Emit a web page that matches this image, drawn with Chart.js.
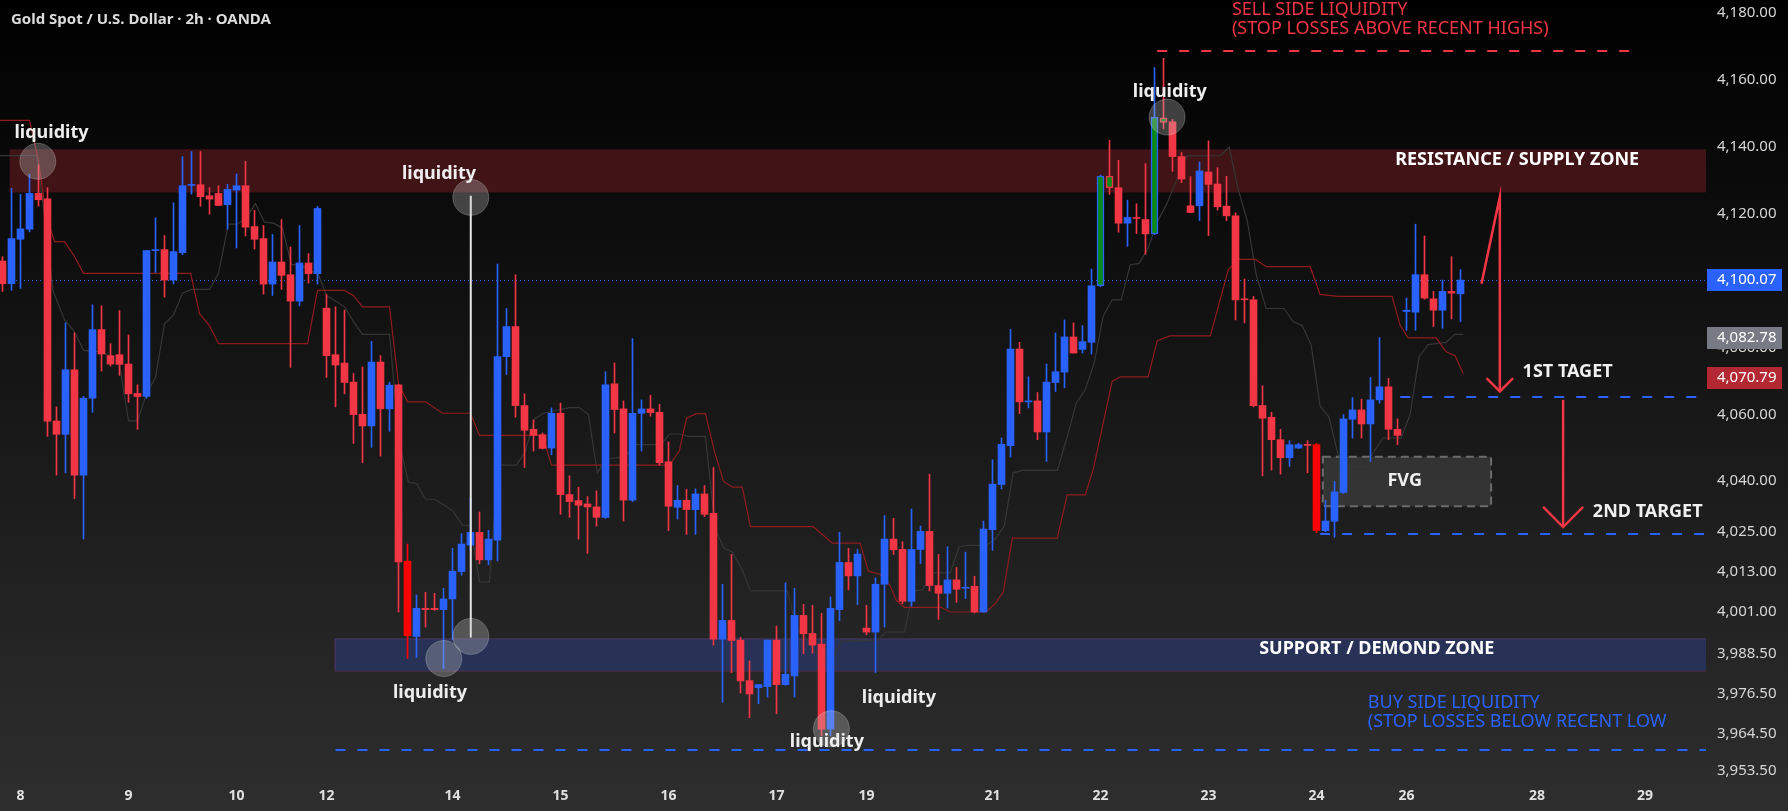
<!DOCTYPE html>
<html>
<head>
<meta charset="utf-8">
<script src="https://cdn.jsdelivr.net/npm/chart.js@4.4.1/dist/chart.umd.min.js"></script>
<style>
  html, body { margin: 0; padding: 0; background: #000; }
  #gold-chart { display: block; }
</style>
</head>
<body>
<canvas id="gold-chart" width="1788" height="811" style="width:1788px;height:811px"></canvas>
<script>
// ====== Candles (2h)
const candleOpen = [
  4105.8, 4099.0, 4112.3, 4115.3, 4126.0, 4124.4, 4058.0, 4054.0, 4073.3, 4041.8,
  4064.8, 4085.3, 4077.5, 4077.8, 4075.0, 4066.2, 4065.3, 4108.9, 4109.2, 4100.1,
  4108.3, 4128.4, 4128.6, 4125.3, 4126.0, 4122.6, 4127.0, 4128.3, 4116.1, 4112.5,
  4098.9, 4105.5, 4101.7, 4093.8, 4105.2, 4102.0, 4091.7, 4077.8, 4075.3, 4069.6,
  4060.0, 4056.5, 4075.6, 4061.6, 4068.8, 4016.1, 3993.6, 4002.0, 4002.0, 4001.6,
  4004.8, 4013.0, 4020.9, 4024.7, 4016.5, 4022.4, 4077.2, 4086.2, 4062.6, 4055.5,
  4053.9, 4049.9, 4060.3, 4036.0, 4034.2, 4033.2, 4032.3, 4029.2, 4069.1, 4061.6,
  4034.3, 4060.3, 4061.6, 4060.6, 4045.8, 4032.2, 4034.3, 4031.5, 4036.2, 4030.4,
  3992.8, 3998.4, 3992.5, 3980.4, 3978.3, 3978.6, 3992.5, 3979.2, 3981.8, 3999.9,
  3994.5, 3991.3, 3965.9, 4001.6, 4015.7, 4011.7, 3996.1, 3994.9, 4009.2, 4022.7,
  4019.6, 4004.1, 4019.6, 4025.0, 4008.8, 4006.5, 4010.5, 4008.0, 4008.6, 4000.9,
  4025.5, 4039.0, 4050.6, 4079.5, 4063.7, 4064.0, 4054.7, 4069.5, 4072.6, 4083.1,
  4079.4, 4081.5, 4098.4, 4131.2, 4127.7, 4117.1, 4118.8, 4118.2, 4113.9, 4148.6,
  4147.4, 4137.0, 4122.3, 4122.3, 4132.4, 4128.8, 4122.2, 4119.3, 4094.5, 4094.2,
  4062.6, 4059.1, 4052.4, 4047.0, 4049.9, 4050.9, 4050.9, 4025.2, 4028.0, 4036.6,
  4058.5, 4061.3, 4057.1, 4064.3, 4068.2, 4055.5, 4090.7, 4090.5, 4101.7, 4094.5,
  4091.1, 4096.7, 4096.0,
];
const candleHigh = [
  4107.1, 4127.5, 4125.7, 4131.7, 4134.6, 4127.7, 4062.2, 4087.3, 4084.3, 4065.3,
  4092.7, 4092.4, 4081.1, 4091.0, 4083.7, 4068.8, 4108.9, 4118.7, 4113.4, 4123.2,
  4137.0, 4138.5, 4138.5, 4127.7, 4128.3, 4128.7, 4131.8, 4135.6, 4120.9, 4116.4,
  4113.7, 4118.2, 4110.0, 4116.4, 4108.0, 4122.1, 4095.8, 4092.1, 4091.1, 4072.2,
  4074.1, 4081.8, 4077.5, 4069.6, 4068.8, 4021.2, 4006.0, 4006.8, 4006.5, 4008.0,
  4019.9, 4024.3, 4035.1, 4030.8, 4025.3, 4104.9, 4091.6, 4101.7, 4066.1, 4058.3,
  4054.4, 4061.9, 4063.3, 4041.6, 4038.2, 4035.4, 4037.1, 4072.7, 4075.3, 4064.0,
  4082.6, 4064.3, 4065.7, 4063.0, 4051.7, 4038.7, 4037.6, 4037.7, 4038.7, 4044.1,
  4009.2, 4018.1, 3993.3, 3986.3, 3979.2, 3992.5, 3996.7, 4009.6, 4008.0, 4003.2,
  4002.9, 4000.5, 4005.4, 4024.7, 4019.9, 4019.6, 4002.9, 4011.1, 4029.7, 4028.9,
  4021.9, 4031.7, 4026.6, 4042.1, 4018.1, 4020.4, 4014.2, 4018.8, 4011.6, 4028.1,
  4046.4, 4052.9, 4085.4, 4081.5, 4071.2, 4066.5, 4075.0, 4084.3, 4088.2, 4087.3,
  4086.5, 4103.4, 4131.5, 4141.9, 4135.9, 4124.0, 4122.9, 4134.9, 4163.6, 4166.4,
  4148.1, 4138.2, 4131.0, 4135.4, 4141.7, 4133.7, 4131.1, 4120.2, 4100.4, 4095.2,
  4068.5, 4060.6, 4055.5, 4052.1, 4051.3, 4052.1, 4051.3, 4034.3, 4039.9, 4059.9,
  4065.0, 4064.5, 4071.0, 4082.9, 4070.7, 4058.6, 4094.7, 4116.8, 4113.3, 4096.7,
  4100.1, 4107.1, 4103.2,
];
const candleLow = [
  4096.7, 4097.0, 4097.6, 4114.5, 4122.2, 4053.4, 4041.8, 4042.5, 4034.8, 4022.7,
  4060.6, 4072.9, 4074.4, 4071.6, 4063.6, 4055.5, 4064.8, 4102.4, 4095.0, 4098.9,
  4107.7, 4125.8, 4122.2, 4119.8, 4122.4, 4115.3, 4109.7, 4113.3, 4109.4, 4095.9,
  4095.5, 4097.3, 4074.0, 4092.4, 4099.2, 4098.9, 4071.0, 4062.2, 4066.1, 4051.3,
  4045.5, 4050.1, 4047.5, 4054.9, 4000.9, 3987.0, 3987.3, 3996.4, 4001.4, 3984.0,
  3992.7, 4011.9, 4019.3, 4015.3, 4015.0, 4016.2, 4071.9, 4059.1, 4044.1, 4049.0,
  4049.6, 4047.9, 4030.1, 4029.2, 4022.7, 4018.4, 4026.6, 4028.9, 4054.4, 4028.1,
  4033.9, 4049.0, 4059.4, 4044.8, 4025.2, 4028.7, 4024.1, 4024.1, 4029.4, 3991.0,
  3973.9, 3982.8, 3976.7, 3969.3, 3973.5, 3975.5, 3970.5, 3979.0, 3975.5, 3988.4,
  3988.6, 3963.9, 3963.9, 3998.3, 4007.5, 4003.1, 3994.1, 3982.8, 3996.4, 4018.1,
  4003.4, 4002.6, 4015.4, 4007.2, 3998.7, 4002.1, 4003.8, 4004.9, 4000.6, 4000.9,
  4019.3, 4037.7, 4047.2, 4060.2, 4061.9, 4052.4, 4045.9, 4066.8, 4067.9, 4078.3,
  4078.3, 4078.0, 4098.1, 4125.7, 4114.4, 4110.2, 4114.0, 4107.8, 4113.7, 4145.3,
  4132.6, 4129.2, 4120.2, 4117.9, 4113.4, 4121.0, 4117.9, 4088.2, 4087.3, 4062.2,
  4041.6, 4043.3, 4042.1, 4044.4, 4049.8, 4042.5, 4024.6, 4024.9, 4023.2, 4036.3,
  4052.9, 4052.9, 4045.9, 4063.3, 4052.4, 4050.9, 4085.1, 4085.1, 4094.4, 4086.2,
  4085.7, 4088.5, 4087.7,
];
const candleClose = [
  4099.0, 4112.5, 4115.4, 4126.0, 4124.1, 4057.9, 4054.0, 4073.3, 4041.8, 4064.8,
  4085.3, 4078.0, 4075.0, 4074.9, 4066.1, 4065.3, 4108.9, 4109.2, 4100.1, 4108.6,
  4128.3, 4128.7, 4125.0, 4124.3, 4122.4, 4127.2, 4128.3, 4115.9, 4112.3, 4098.9,
  4105.5, 4101.5, 4093.8, 4105.2, 4102.0, 4121.5, 4077.5, 4074.7, 4069.5, 4059.9,
  4056.5, 4075.6, 4061.6, 4068.7, 4015.9, 3993.8, 4002.0, 4001.6, 4001.6, 4004.8,
  4013.1, 4021.2, 4024.7, 4016.5, 4022.7, 4077.2, 4086.2, 4062.6, 4055.2, 4053.7,
  4049.8, 4060.3, 4036.0, 4033.9, 4032.8, 4032.3, 4029.2, 4068.8, 4061.4, 4034.3,
  4060.3, 4061.6, 4060.5, 4045.5, 4032.5, 4034.3, 4031.5, 4036.2, 4030.1, 3992.8,
  3998.4, 3992.4, 3980.3, 3976.4, 3979.2, 3992.5, 3979.2, 3982.3, 3999.9, 3994.4,
  3991.0, 3965.9, 4002.0, 4015.7, 4011.7, 4018.2, 3994.9, 4009.2, 4022.7, 4019.5,
  4004.1, 4019.6, 4025.0, 4008.8, 4006.5, 4010.5, 4007.7, 4008.3, 4000.9, 4025.7,
  4039.1, 4051.0, 4079.5, 4063.7, 4064.0, 4054.7, 4069.6, 4072.7, 4083.1, 4078.3,
  4081.7, 4098.4, 4131.2, 4127.7, 4117.1, 4118.8, 4118.5, 4113.9, 4148.8, 4147.2,
  4137.0, 4130.3, 4120.3, 4132.7, 4128.7, 4122.0, 4119.3, 4094.2, 4094.2, 4062.6,
  4058.8, 4052.4, 4047.0, 4050.9, 4050.9, 4050.7, 4025.3, 4028.1, 4036.8, 4058.6,
  4061.3, 4057.1, 4064.3, 4068.2, 4055.5, 4053.7, 4091.1, 4101.7, 4094.7, 4091.1,
  4096.7, 4096.2, 4100.1,
];
// candles the author repainted
const greenMarked = [122, 123, 128, 129];
const sweepCandles = [45, 146];

// ====== Indicator lines [candle index, price]
const redBaseline = [
  [-0.3, 4147.8], [3.0, 4147.8], [4.0, 4135.7], [4.9, 4118.7], [5.8, 4111.6], [6.9, 4111.6],
  [7.85, 4107.8], [9.0, 4102.1], [20.9, 4102.1], [21.9, 4090.0], [23.0, 4086.5], [24.0, 4081.1],
  [33.9, 4081.1], [35.0, 4097.0], [38.0, 4097.0], [39.0, 4095.5], [40.0, 4092.1], [43.0, 4092.1],
  [44.0, 4069.1], [45.0, 4063.7], [47.0, 4063.7], [48.9, 4060.3], [52.0, 4060.3], [53.0, 4053.7],
  [60.0, 4053.7], [61.0, 4044.8], [74.1, 4044.8], [75.2, 4049.0], [76.0, 4058.8], [77.1, 4060.2],
  [78.1, 4060.2], [79.1, 4049.0], [80.1, 4040.0], [81.1, 4038.2], [82.2, 4038.2], [83.1, 4026.4],
  [90.1, 4026.4], [92.2, 4021.5], [95.3, 4021.5], [96.2, 4013.1], [97.5, 4012.2], [98.6, 4008.8],
  [99.3, 4004.4], [100.2, 4002.3], [104.3, 4002.3], [105.3, 4000.9], [109.3, 4000.9], [110.3, 4003.4],
  [111.2, 4006.9], [112.2, 4023.0], [117.2, 4023.0], [118.3, 4035.9], [120.3, 4035.9], [121.2, 4043.6],
  [123.3, 4069.9], [124.2, 4071.2], [127.3, 4071.2], [128.3, 4082.0], [129.7, 4083.4], [134.2, 4083.4],
  [136.2, 4103.2], [137.3, 4106.3], [139.2, 4106.3], [140.4, 4104.1], [145.3, 4104.1], [146.4, 4095.8],
  [148.4, 4095.2], [154.4, 4095.2], [155.3, 4086.5], [156.2, 4082.8], [159.3, 4082.8], [160.4, 4078.7],
  [161.4, 4077.5], [162.3, 4072.2],
];
const greyBaseline = [
  [-0.3, 4137.3], [3.8, 4137.3], [4.7, 4118.7], [5.6, 4097.0], [6.9, 4088.2], [7.9, 4085.1],
  [9.0, 4079.1], [10.8, 4078.7], [11.9, 4077.5], [13.0, 4075.0], [14.0, 4058.0], [15.0, 4058.0],
  [16.0, 4066.1], [17.0, 4071.0], [18.0, 4087.0], [19.0, 4089.7], [20.0, 4096.2], [21.0, 4097.3],
  [23.0, 4097.3], [24.0, 4102.1], [25.1, 4116.8], [26.1, 4116.8], [27.1, 4118.7], [28.1, 4123.0],
  [29.1, 4117.4], [30.1, 4117.1], [31.1, 4115.6], [32.1, 4104.7], [33.0, 4104.7], [35.1, 4101.7],
  [36.0, 4095.5], [38.0, 4092.1], [39.0, 4087.7], [40.0, 4083.9], [43.0, 4083.9], [44.1, 4051.3],
  [45.1, 4039.7], [46.0, 4039.3], [47.0, 4034.6], [48.0, 4034.6], [49.1, 4032.8], [50.1, 4030.9],
  [51.1, 4026.9], [52.0, 4026.6], [53.0, 4009.9], [54.1, 4009.9], [55.1, 4044.8], [57.1, 4044.8],
  [58.1, 4049.0], [59.1, 4058.6], [60.1, 4060.3], [63.0, 4062.0], [64.1, 4062.0], [65.1, 4059.9],
  [66.1, 4042.5], [67.1, 4046.7], [69.2, 4047.2], [70.2, 4050.9], [73.2, 4050.9], [74.1, 4054.1],
  [75.2, 4054.1], [76.2, 4053.4], [78.1, 4053.4], [79.2, 4025.8], [80.1, 4020.1], [81.1, 4018.8],
  [82.2, 4013.4], [83.1, 4007.2], [87.2, 4007.2], [88.2, 3996.4], [89.2, 3993.3], [90.2, 3989.4],
  [91.2, 3988.4], [92.2, 3986.3], [93.2, 3992.2], [97.2, 3992.5], [98.2, 3994.9], [100.2, 3994.9],
  [101.2, 4007.2], [102.2, 4007.5], [103.3, 4012.6], [105.3, 4012.6], [106.3, 4020.4], [107.3, 4020.8],
  [109.3, 4020.8], [110.3, 4022.7], [111.3, 4026.6], [112.3, 4042.5], [113.3, 4043.2], [117.2, 4043.2],
  [118.3, 4053.2], [119.3, 4063.3], [120.3, 4067.3], [121.3, 4075.3], [122.3, 4089.3], [123.3, 4094.2],
  [124.3, 4094.2], [125.3, 4104.7], [126.3, 4105.1], [127.3, 4109.7], [128.3, 4117.5], [129.3, 4122.5],
  [130.3, 4129.0], [131.6, 4137.2], [135.3, 4137.3], [136.3, 4139.8], [137.3, 4127.2], [138.3, 4117.9],
  [139.3, 4101.7], [140.4, 4091.6], [142.4, 4091.6], [143.4, 4087.7], [144.4, 4086.5], [145.4, 4080.8],
  [146.4, 4062.5], [147.4, 4059.1], [148.4, 4047.8], [149.4, 4044.4], [151.4, 4044.4], [152.4, 4049.0],
  [153.4, 4052.9], [155.4, 4052.9], [156.4, 4059.9], [157.4, 4077.2], [158.4, 4080.8], [160.4, 4081.5],
  [161.4, 4083.9], [162.3, 4083.9],
];

// ====== Axes
const dayTickPos = [2, 14, 26, 36, 50, 62, 74, 86, 96, 110, 122, 134, 146, 156, 170.5, 182.5];
const dayTickLabels = ["8", "9", "10", "12", "14", "15", "16", "17", "19", "21", "22", "23", "24", "26", "28", "29"];
const priceTicks = [4180, 4160, 4140, 4120, 4100, 4080, 4060, 4040, 4025, 4013, 4001, 3988.5, 3976.5, 3964.5, 3953.5];
const lastPrice = 4100.07;
const badgePrices = [4100.07, 4082.78, 4070.79];
const badgeColors = ["#2962ff", "#787b86", "#b22833"];

const X_MIN = -0.2778, X_MAX = 189.2778;
const Y_MIN = 3949.8, Y_MAX = 4183.8;

// ====== Drawing on top (positions in candle index / price)
const zoneBoxes = [
  { x0: 0.8, x1: X_MAX, top: 4139.2, bottom: 4126.3, fill: "rgba(110,28,33,0.55)" },
  { x0: 36.9, x1: X_MAX, top: 3993.0, bottom: 3983.4, fill: "rgba(42,64,140,0.48)", stroke: "rgba(110,55,110,0.55)" },
];
const fvgBox = { x0: 146.7, x1: 165.4, top: 4047.3, bottom: 4032.5 };
const dashedLevels = [
  { x0: 128.3, x1: 180.8, p: 4168.6, color: "#f23645" },
  { x0: 37.0, x1: X_MAX, p: 3959.8, color: "#2962ff" },
  { x0: 155.3, x1: 188.3, p: 4065.3, color: "#2962ff" },
  { x0: 146.4, x1: X_MAX, p: 4024.1, color: "#2962ff" },
];
const sweepLine = { x: 52.03, top: 4125.3, bottom: 3993.3 };
const liquidityCircles = [[3.92, 4135.6], [52.03, 4124.8], [52.03, 3993.6], [49.03, 3987.0], [92.1, 3966.0], [129.4, 4148.8]];
const arrows = [
  { path: [[164.33, 4099.0], [166.37, 4125.0], [166.37, 4066.8]], head: [[164.89, 4070.8], [166.37, 4066.8], [167.84, 4070.8]] },
  { path: [[173.4, 4064.3], [173.4, 4026.3]], head: [[171.18, 4032.3], [173.4, 4026.3], [175.62, 4032.3]] },
];
const BOLD = 'bold 18px "Noto Sans"';
const THIN = '18px "Noto Sans"';
const notes = [
  { text: "liquidity", x: 5.44, p: 4144.0, font: BOLD, color: "#eeeeee" },
  { text: "liquidity", x: 48.5, p: 4131.7, font: BOLD, color: "#eeeeee" },
  { text: "liquidity", x: 47.5, p: 3976.6, font: BOLD, color: "#eeeeee" },
  { text: "liquidity", x: 91.6, p: 3962.0, font: BOLD, color: "#eeeeee" },
  { text: "liquidity", x: 99.6, p: 3975.2, font: BOLD, color: "#eeeeee" },
  { text: "liquidity", x: 129.7, p: 4156.2, font: BOLD, color: "#eeeeee" },
  { text: "RESISTANCE / SUPPLY ZONE", x: 168.3, p: 4135.9, font: BOLD, color: "#ffffff" },
  { text: "SUPPORT / DEMOND ZONE", x: 152.7, p: 3989.8, font: BOLD, color: "#ffffff" },
  { text: "SELL SIDE LIQUIDITY", x: 136.6, p: 4180.8, font: THIN, color: "#f23645", align: "left" },
  { text: "(STOP LOSSES ABOVE RECENT HIGHS)", x: 136.6, p: 4175.1, font: THIN, color: "#f23645", align: "left" },
  { text: "BUY SIDE LIQUIDITY", x: 151.7, p: 3973.8, font: THIN, color: "#2962ff", align: "left" },
  { text: "(STOP LOSSES BELOW RECENT LOW", x: 151.7, p: 3968.1, font: THIN, color: "#2962ff", align: "left" },
  { text: "FVG", x: 155.8, p: 4040.0, font: BOLD, color: "#f0f0f0" },
  { text: "1ST TAGET", x: 173.9, p: 4072.7, font: BOLD, color: "#f0f0f0" },
  { text: "2ND TARGET", x: 182.8, p: 4030.7, font: BOLD, color: "#f0f0f0" },
];

// ====== Candle colours
const BLUE = "#2962ff", RED = "#f23645";
const isUp = (i) => candleClose[i] >= candleOpen[i];
const bodyFill = (i) => {
  if (greenMarked.includes(i)) return "#0a8a1a";
  if (sweepCandles.includes(i)) return "#ff0000";
  return isUp(i) ? BLUE : RED;
};
const wickFill = (i) => (sweepCandles.includes(i) ? "#ff0000" : (isUp(i) ? BLUE : RED));

const pt = (chart, x, p) => [chart.scales.x.getPixelForValue(x), chart.scales.y.getPixelForValue(p)];

const decorPlugin = {
  id: "decor",
  beforeDraw(chart) {
    const { ctx, width, height } = chart;
    const g = ctx.createLinearGradient(0, 0, 0, height);
    g.addColorStop(0, "#000000");
    g.addColorStop(1, "#2e2e2e");
    ctx.save();
    ctx.fillStyle = g;
    ctx.fillRect(0, 0, width, height);
    ctx.restore();
  },
  beforeDatasetsDraw(chart) {
    const { ctx, chartArea: ca } = chart;
    ctx.save();
    ctx.beginPath();
    ctx.rect(ca.left, ca.top, ca.width, ca.height);
    ctx.clip();
    zoneBoxes.forEach((z) => {
      const [x0, y0] = pt(chart, z.x0, z.top);
      const [x1, y1] = pt(chart, z.x1, z.bottom);
      ctx.fillStyle = z.fill;
      ctx.fillRect(x0, y0, x1 - x0, y1 - y0);
      if (z.stroke) {
        ctx.strokeStyle = z.stroke;
        ctx.lineWidth = 1;
        ctx.strokeRect(x0 + 0.5, y0 + 0.5, x1 - x0, y1 - y0);
      }
    });
    const [fx0, fy0] = pt(chart, fvgBox.x0, fvgBox.top);
    const [fx1, fy1] = pt(chart, fvgBox.x1, fvgBox.bottom);
    ctx.fillStyle = "rgba(120,120,120,0.27)";
    ctx.fillRect(fx0, fy0, fx1 - fx0, fy1 - fy0);
    ctx.setLineDash([8, 5]);
    ctx.strokeStyle = "#6c6c6c";
    ctx.lineWidth = 2;
    ctx.strokeRect(fx0, fy0, fx1 - fx0, fy1 - fy0);

    // last price
    const ly = Math.round(chart.scales.y.getPixelForValue(lastPrice)) + 0.5;
    ctx.setLineDash([1, 3]);
    ctx.lineWidth = 1;
    ctx.strokeStyle = BLUE;
    ctx.beginPath();
    ctx.moveTo(ca.left, ly);
    ctx.lineTo(ca.right, ly);
    ctx.stroke();
    ctx.restore();
  },
  afterDatasetsDraw(chart) {
    const { ctx } = chart;
    ctx.save();
    ctx.lineWidth = 2;
    dashedLevels.forEach((d) => {
      const [x0, y] = pt(chart, d.x0, d.p);
      const [x1] = pt(chart, d.x1, d.p);
      ctx.setLineDash([10, 12]);
      ctx.strokeStyle = d.color;
      ctx.beginPath();
      ctx.moveTo(x0, Math.round(y));
      ctx.lineTo(x1, Math.round(y));
      ctx.stroke();
    });
    ctx.setLineDash([]);

    const [sx, sy0] = pt(chart, sweepLine.x, sweepLine.top);
    const [, sy1] = pt(chart, sweepLine.x, sweepLine.bottom);
    ctx.strokeStyle = "#e6e6e6";
    ctx.beginPath();
    ctx.moveTo(sx, sy0);
    ctx.lineTo(sx, sy1);
    ctx.stroke();

    liquidityCircles.forEach(([x, p]) => {
      const [cx, cy] = pt(chart, x, p);
      ctx.beginPath();
      ctx.arc(cx, cy, 18, 0, Math.PI * 2);
      ctx.fillStyle = "rgba(200,200,200,0.3)";
      ctx.fill();
      ctx.strokeStyle = "rgba(255,255,255,0.22)";
      ctx.lineWidth = 1;
      ctx.stroke();
    });

    ctx.strokeStyle = RED;
    ctx.lineWidth = 2.5;
    ctx.lineJoin = "miter";
    arrows.forEach((a) => {
      [a.path, a.head].forEach((line) => {
        ctx.beginPath();
        line.forEach(([x, p], k) => {
          const [px, py] = pt(chart, x, p);
          if (k === 0) ctx.moveTo(px, py); else ctx.lineTo(px, py);
        });
        ctx.stroke();
      });
    });

    ctx.textBaseline = "middle";
    notes.forEach((n) => {
      const [x, y] = pt(chart, n.x, n.p);
      ctx.font = n.font;
      ctx.fillStyle = n.color;
      ctx.textAlign = n.align || "center";
      ctx.fillText(n.text, x, y);
    });
    ctx.restore();
  },
  afterDraw(chart) {
    const { ctx, chartArea: ca } = chart;
    ctx.save();
    ctx.font = '15px "Noto Sans"';
    ctx.textBaseline = "middle";
    ctx.textAlign = "left";
    badgePrices.forEach((v, i) => {
      const y = chart.scales.y.getPixelForValue(v);
      ctx.fillStyle = badgeColors[i];
      ctx.fillRect(ca.right + 1, Math.round(y - 11), 75, 22);
      ctx.fillStyle = "#ffffff";
      ctx.fillText(v.toLocaleString("en-US", { minimumFractionDigits: 2 }), ca.right + 11, y);
    });
    ctx.font = 'bold 15px "Noto Sans"';
    ctx.fillStyle = "#dcdcdc";
    ctx.fillText("Gold Spot / U.S. Dollar \u00b7 2h \u00b7 OANDA", 11, 20);
    ctx.restore();
  },
};

const idx = candleOpen.map((_, i) => i);

new Chart(document.getElementById("gold-chart"), {
  type: "bar",
  data: {
    datasets: [
      {
        label: "bodies",
        data: idx.map((i) => ({ x: i, y: [candleOpen[i], candleClose[i]] })),
        backgroundColor: idx.map(bodyFill),
        borderColor: idx.map((i) => (greenMarked.includes(i) ? (isUp(i) ? BLUE : RED) : "rgba(0,0,0,0)")),
        borderWidth: idx.map((i) => (greenMarked.includes(i) ? 1.5 : 0)),
        borderSkipped: false,
        barThickness: 7,
        minBarLength: 1,
        grouped: false,
        order: 1,
      },
      {
        label: "wicks",
        data: idx.map((i) => ({ x: i, y: [candleLow[i], candleHigh[i]] })),
        backgroundColor: idx.map(wickFill),
        borderWidth: 0,
        barThickness: 1,
        grouped: false,
        order: 2,
      },
      {
        type: "line",
        label: "base",
        data: redBaseline.map(([x, y]) => ({ x, y })),
        borderColor: "#8e1c1f",
        borderWidth: 1.2,
        pointRadius: 0,
        tension: 0,
        order: 3,
      },
      {
        type: "line",
        label: "conv",
        data: greyBaseline.map(([x, y]) => ({ x, y })),
        borderColor: "#363636",
        borderWidth: 1.2,
        pointRadius: 0,
        tension: 0,
        order: 4,
      },
    ],
  },
  options: {
    responsive: false,
    animation: false,
    devicePixelRatio: 1,
    layout: { padding: 0 },
    plugins: { legend: { display: false }, tooltip: { enabled: false }, title: { display: false } },
    scales: {
      x: {
        type: "linear",
        min: X_MIN,
        max: X_MAX,
        offset: false,
        grid: { display: false, drawTicks: false },
        border: { display: false },
        afterBuildTicks: (scale) => { scale.ticks = dayTickPos.map((v) => ({ value: v })); },
        afterFit: (scale) => {
          scale.height = 28;
          scale.paddingLeft = 0;
          scale.paddingRight = 0;
        },
        ticks: {
          autoSkip: false,
          maxRotation: 0,
          padding: 5,
          color: "#e0e0e0",
          font: { family: "Noto Sans", size: 14, weight: "bold" },
          callback: (v, i) => dayTickLabels[i],
        },
      },
      y: {
        type: "linear",
        position: "right",
        min: Y_MIN,
        max: Y_MAX,
        grid: { display: false, drawTicks: false },
        border: { display: false },
        afterBuildTicks: (scale) => { scale.ticks = priceTicks.map((v) => ({ value: v })); },
        afterFit: (scale) => {
          scale.width = 82;
          scale.paddingTop = 0;
          scale.paddingBottom = 0;
        },
        ticks: {
          autoSkip: false,
          padding: 11,
          color: "#d6d6d6",
          font: { family: "Noto Sans", size: 15 },
          callback: (v) => v.toLocaleString("en-US", { minimumFractionDigits: 2, maximumFractionDigits: 2 }),
        },
      },
    },
  },
  plugins: [decorPlugin],
});
</script>
</body>
</html>
